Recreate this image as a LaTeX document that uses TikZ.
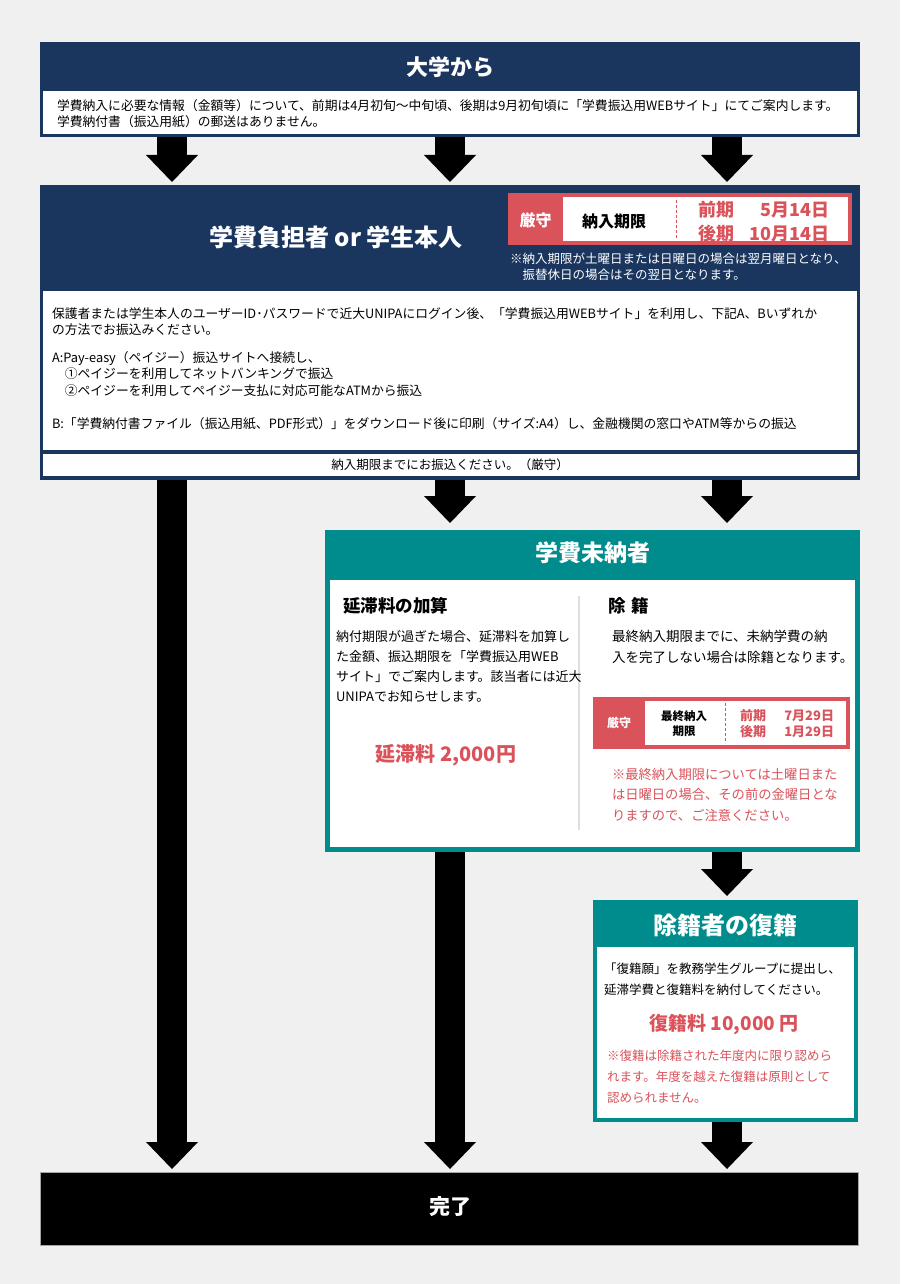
\documentclass[tikz,border=0pt]{standalone}
\usepackage{fontspec}
\setmainfont{Noto Sans CJK JP}
\usetikzlibrary{arrows.meta}
\definecolor{bgc}{RGB}{240,240,240}
\definecolor{navy}{RGB}{26,54,94}
\definecolor{tealc}{RGB}{0,140,140}
\definecolor{ngred}{RGB}{218,82,90}
\definecolor{divc}{RGB}{222,222,222}
\tikzset{
  box/.style={rectangle, inner sep=0pt, outer sep=0pt, anchor=north west},
  lbl/.style={inner sep=0pt, outer sep=0pt},
  body/.style={lbl, anchor=north west, align=left},
  flowarrow/.style={line width=30pt, draw=black, shorten >=3pt, -{Triangle[width=52pt,length=27pt,line width=0pt]}},
  dashsep/.style={draw=ngred, line width=1pt, dash pattern=on 3pt off 2pt},
}
\begin{document}
\begin{tikzpicture}[x=1pt,y=-1pt]
\useasboundingbox (0,0) rectangle (900,1284);
\fill[bgc] (0,0) rectangle (900,1284);

% ---------- box 1 : 大学から
\node[box, fill=navy, minimum width=820pt, minimum height=95pt] (uni) at (40,42) {};
\node[lbl, text=white, font=\bfseries\fontsize{22}{26}\selectfont] (unit) at (450,67) {大学から};
\node[box, fill=white, minimum width=814pt, minimum height=43pt] (unibody) at (43,91) {};
\node[body, font=\fontsize{12.8}{16}\selectfont] (unitxt) at (57,99.5) {学費納入に必要な情報（金額等）について、前期は4月初旬～中旬頃、後期は9月初旬頃に「学費振込用WEBサイト」にてご案内します。\\学費納付書（振込用紙）の郵送はありません。};

% ---------- box 2 : 学費負担者 or 学生本人
\node[box, fill=navy, minimum width=820pt, minimum height=295pt] (pay) at (40,185) {};
\node[lbl, text=white, font=\bfseries\fontsize{24}{28}\selectfont] (payt) at (336,237) {学費負担者 or 学生本人};
% deadline badge
\node[box, fill=ngred, minimum width=344pt, minimum height=52pt] (rb1) at (508,193) {};
\node[box, fill=white, minimum width=285pt, minimum height=44pt] (rb1in) at (563,197) {};
\node[lbl, text=white, font=\bfseries\fontsize{16}{18}\selectfont] (rb1k) at (535.5,220) {厳守};
\node[lbl, text=black, font=\bfseries\fontsize{16}{18}\selectfont] (rb1l) at (614,221) {納入期限};
\draw[dashsep] (676,200) -- (676,238);
\node[lbl, anchor=west, align=left, text=ngred, font=\bfseries\fontsize{18}{24}\selectfont] (rb1p) at (698,222) {前期\\後期};
\node[lbl, anchor=east, align=right, text=ngred, font=\bfseries\fontsize{18}{24}\selectfont] (rb1d) at (829,222) {5月14日\\10月14日};
\node[body, text=white, font=\fontsize{12.5}{16}\selectfont] (paynote) at (510,252.5) {※納入期限が土曜日または日曜日の場合は翌月曜日となり、\\\hspace*{1em}振替休日の場合はその翌日となります。};
% body
\node[box, fill=white, minimum width=814pt, minimum height=159pt] (paybody) at (43,291) {};
\node[body, font=\fontsize{12.8}{16.5}\selectfont] (payp1) at (52,307.5) {保護者または学生本人のユーザーID･パスワードで近大UNIPAにログイン後、「学費振込用WEBサイト」を利用し、下記A、Bいずれか\\の方法でお振込みください。};
\node[body, font=\fontsize{12.8}{16.5}\selectfont] (paypa) at (52,351.5) {A:Pay-easy（ペイジー）振込サイトへ接続し、\\\hspace*{1em}①ペイジーを利用してネットバンキングで振込\\\hspace*{1em}②ペイジーを利用してペイジー支払に対応可能なATMから振込};
\node[lbl, anchor=west, font=\fontsize{12.8}{16.5}\selectfont] (paypb) at (52,424) {B:「学費納付書ファイル（振込用紙、PDF形式）」をダウンロード後に印刷（サイズ:A4）し、金融機関の窓口やATM等からの振込};
\node[box, fill=white, minimum width=814pt, minimum height=22pt] (paystrip) at (43,454) {};
\node[lbl, font=\fontsize{12.5}{15}\selectfont] (paystript) at (450,465) {納入期限までにお振込ください。（厳守）};

% ---------- box 3 : 学費未納者
\node[box, fill=tealc, minimum width=535pt, minimum height=322pt] (unpaid) at (325,530) {};
\node[lbl, text=white, font=\bfseries\fontsize{23}{26}\selectfont] (unpaidt) at (593,553) {学費未納者};
\node[box, fill=white, minimum width=525pt, minimum height=267pt] (unpaidbody) at (330,580) {};
\draw[divc, line width=1.5pt] (579,596) -- (579,830);
% left column
\node[lbl, anchor=west, font=\bfseries\fontsize{17.5}{20}\selectfont] (latet) at (343,606) {延滞料の加算};
\node[body, font=\fontsize{13}{20.3}\selectfont] (latetxt) at (336,630) {納付期限が過ぎた場合、延滞料を加算し\\た金額、振込期限を「学費振込用WEB\\サイト」でご案内します。該当者には近大\\UNIPAでお知らせします。};
\node[lbl, text=ngred, font=\bfseries\fontsize{20}{24}\selectfont] (latefee) at (446,755) {延滞料 2,000円};
% right column
\node[lbl, anchor=west, font=\bfseries\fontsize{17.5}{20}\selectfont] (expt) at (608,606) {除\hspace{0.35em}籍};
\node[body, font=\fontsize{13.5}{21}\selectfont] (exptxt) at (612,630) {最終納入期限までに、未納学費の納\\入を完了しない場合は除籍となります。};
\node[box, fill=ngred, minimum width=257pt, minimum height=52pt] (rb2) at (593,697) {};
\node[box, fill=white, minimum width=201pt, minimum height=44pt] (rb2in) at (645,701) {};
\node[lbl, text=white, font=\bfseries\fontsize{12}{14}\selectfont] (rb2k) at (619,723) {厳守};
\node[lbl, align=center, font=\bfseries\fontsize{11.5}{15}\selectfont] (rb2l) at (684,723.5) {最終納入\\期限};
\draw[dashsep] (725,703) -- (725,743);
\node[lbl, anchor=west, align=left, text=ngred, font=\bfseries\fontsize{13}{16}\selectfont] (rb2p) at (740,724) {前期\\後期};
\node[lbl, anchor=east, align=right, text=ngred, font=\bfseries\fontsize{13}{16}\selectfont] (rb2d) at (834,724) {7月29日\\1月29日};
\node[body, text=ngred, font=\fontsize{13.3}{20.5}\selectfont] (expnote) at (612,768) {※最終納入期限については土曜日また\\は日曜日の場合、その前の金曜日とな\\りますので、ご注意ください。};

% ---------- box 4 : 除籍者の復籍
\node[box, fill=tealc, minimum width=265pt, minimum height=222pt] (reinst) at (593,900) {};
\node[lbl, text=white, font=\bfseries\fontsize{24}{28}\selectfont] (reinstt) at (725,925) {除籍者の復籍};
\node[box, fill=white, minimum width=257pt, minimum height=171pt] (reinstbody) at (597,947) {};
\node[body, font=\fontsize{12.5}{21}\selectfont] (reinsttxt) at (604,962.5) {「復籍願」を教務学生グループに提出し、\\延滞学費と復籍料を納付してください。};
\node[lbl, text=ngred, font=\bfseries\fontsize{19}{22}\selectfont] (reinstfee) at (724,1024) {復籍料 10,000 円};
\node[body, text=ngred, font=\fontsize{12.5}{21}\selectfont] (reinstnote) at (607,1049.5) {※復籍は除籍された年度内に限り認めら\\れます。年度を越えた復籍は原則として\\認められません。};

% ---------- box 5 : 完了
\node[box, fill=black, draw=gray!70, line width=0.8pt, minimum width=818pt, minimum height=73pt] (done) at (40,1172) {};
\node[lbl, text=white, font=\bfseries\fontsize{21}{24}\selectfont] (donet) at (450,1207) {完了};

% ---------- arrows
\coordinate (c1) at (172,0);
\coordinate (c2) at (450,0);
\coordinate (c3) at (727,0);
\draw[flowarrow] (uni.south -| c1) -- (pay.north -| c1);
\draw[flowarrow] (uni.south -| c2) -- (pay.north -| c2);
\draw[flowarrow] (uni.south -| c3) -- (pay.north -| c3);
\draw[flowarrow] (pay.south -| c1) -- (done.north -| c1);
\draw[flowarrow, shorten >=7pt] (pay.south -| c2) -- (unpaid.north -| c2);
\draw[flowarrow, shorten >=7pt] (pay.south -| c3) -- (unpaid.north -| c3);
\draw[flowarrow] (unpaid.south -| c2) -- (done.north -| c2);
\draw[flowarrow, shorten >=4pt] (unpaid.south -| c3) -- (reinst.north -| c3);
\draw[flowarrow] (reinst.south -| c3) -- (done.north -| c3);
\end{tikzpicture}
\end{document}
